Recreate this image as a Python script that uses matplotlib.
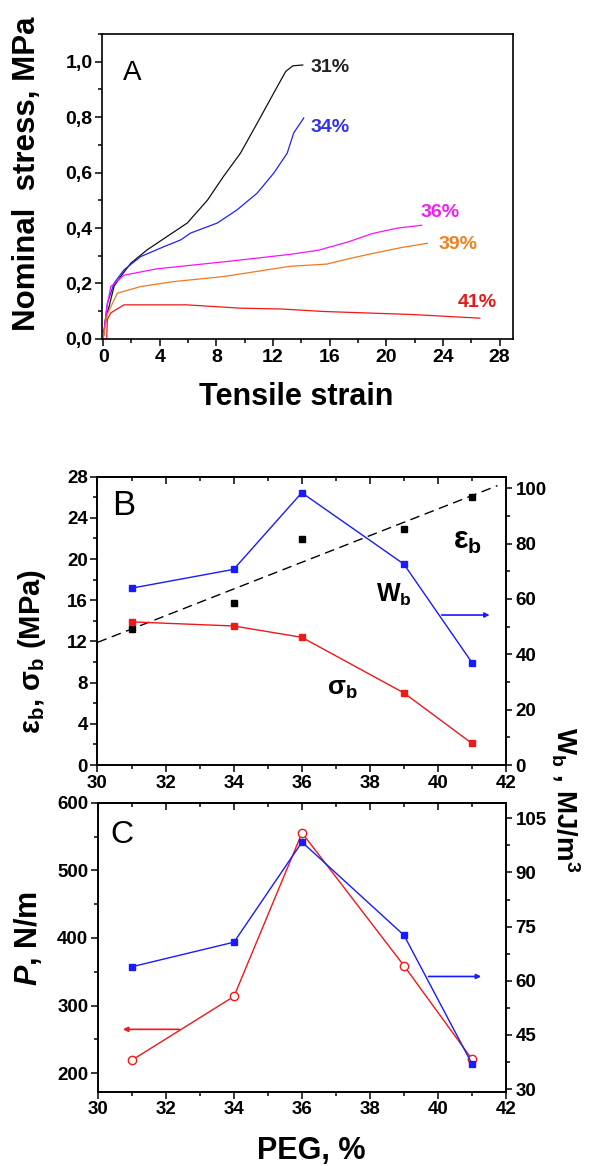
import numpy as np
import matplotlib
matplotlib.use("Agg")
import matplotlib.pyplot as plt
from matplotlib.ticker import MultipleLocator, FuncFormatter

plt.rcParams["font.family"] = ["Liberation Sans", "DejaVu Sans"]
plt.rcParams["font.weight"] = "bold"
plt.rcParams["mathtext.fontset"] = "custom"
plt.rcParams["mathtext.rm"] = "Liberation Sans"
plt.rcParams["mathtext.bf"] = "Liberation Sans:bold"
plt.rcParams["mathtext.it"] = "Liberation Sans:italic"
plt.rcParams["mathtext.bfit"] = "Liberation Sans:italic:bold"

## data, panel A: stress-strain curves

strain_31 = [0, 0.18, 0.42, 0.77, 1.24, 1.95, 3.1, 4.5, 5.94, 7.36, 8.5, 9.7, 10.9, 12.3, 12.9, 13.4, 14.1]
stress_31 = [0, 0.076, 0.117, 0.19, 0.225, 0.273, 0.321, 0.369, 0.418, 0.50, 0.586, 0.67, 0.78, 0.91, 0.965, 0.985, 0.988]

strain_34 = [0, 0.3, 0.77, 1.47, 2.65, 4.3, 5.47, 6.18, 8.06, 9.47, 10.88, 12.05, 13.0, 13.46, 14.17]
stress_34 = [0, 0.129, 0.201, 0.249, 0.297, 0.333, 0.357, 0.382, 0.418, 0.466, 0.526, 0.598, 0.67, 0.743, 0.797]

strain_36 = [0, 0.25, 0.54, 1.47, 3.8, 8.5, 13.2, 15.2, 17.3, 19.0, 20.8, 22.5]
stress_36 = [0, 0.11, 0.189, 0.23, 0.253, 0.278, 0.305, 0.32, 0.35, 0.38, 0.40, 0.41]

strain_39 = [0, 0.3, 1.0, 2.65, 5.0, 8.5, 13.2, 15.8, 17.4, 19.2, 21.1, 22.9]
stress_39 = [0, 0.09, 0.165, 0.189, 0.207, 0.225, 0.262, 0.27, 0.29, 0.31, 0.33, 0.345]

strain_41 = [0.25, 0.3, 0.54, 1.47, 5.9, 9.7, 12.6, 15.6, 21.9, 26.6]
stress_41 = [0, 0.07, 0.094, 0.123, 0.123, 0.111, 0.108, 0.099, 0.088, 0.075]

curve_labels = ["31%", "34%", "36%", "39%", "41%"]
curve_colors = ["#111111", "#2020ff", "#ff10ff", "#f07820", "#f01818"]
label_colors = ["#222222", "#3030f0", "#f020f0", "#f08020", "#e81818"]

## data, panels B and C

peg = [31, 34, 36, 39, 41]
eps_b = [13.2, 15.7, 21.9, 22.9, 26.0]
sigma_b = [13.9, 13.5, 12.4, 7.0, 2.1]
w_b = [63.9, 70.7, 98.4, 72.6, 37.0]
peel = [219.6, 313.7, 555.4, 359.0, 220.7]

fig = plt.figure(figsize=(5.89, 11.66), dpi=100)

## panel A

axA = fig.add_axes([0.1739, 0.7093, 0.6971, 0.2616])
curves = [(strain_31, stress_31), (strain_34, stress_34), (strain_36, stress_36),
          (strain_39, stress_39), (strain_41, stress_41)]
for (x, y), c in zip(curves, curve_colors):
    axA.plot(x, y, color=c, lw=0.9)

label_pos = [(14.65, 0.978), (14.65, 0.763), (22.45, 0.455), (23.67, 0.339), (25.08, 0.13)]
for lab, (x, y), c in zip(curve_labels, label_pos, label_colors):
    axA.text(x, y, lab, color=c, fontsize=14, fontweight="bold", ha="left", va="center")

axA.text(2.07, 0.96, "A", fontsize=20, fontweight="normal", ha="center", va="center")
axA.set_xlim(-0.05, 28.95)
axA.set_ylim(0, 1.10)
axA.xaxis.set_major_locator(MultipleLocator(4))
axA.xaxis.set_minor_locator(MultipleLocator(2))
axA.yaxis.set_major_locator(MultipleLocator(0.2))
axA.yaxis.set_minor_locator(MultipleLocator(0.1))
axA.yaxis.set_major_formatter(FuncFormatter(lambda v, p: f"{v:.1f}".replace(".", ",")))
axA.tick_params(which="both", direction="out", width=1.1)
axA.tick_params(which="major", length=5, labelsize=14, pad=2)
axA.tick_params(which="minor", length=3)
for s in axA.spines.values():
    s.set_linewidth(1.2)

fig.text(0.0458, 0.8508, "Nominal  stress, MPa", rotation=90, fontsize=22.5,
         fontweight="bold", ha="center", va="center")
fig.text(0.5025, 0.6595, "Tensile strain", fontsize=22, fontweight="bold",
         ha="center", va="center")


def style_axes(ax, ax2, right_major, right_minor, left_major, left_minor):
    ax.set_xlim(30, 42)
    ax.xaxis.set_major_locator(MultipleLocator(2))
    ax.xaxis.set_minor_locator(MultipleLocator(1))
    ax.yaxis.set_major_locator(MultipleLocator(left_major))
    ax.yaxis.set_minor_locator(MultipleLocator(left_minor))
    ax.tick_params(which="both", direction="out", width=1.1, labelsize=13.5)
    ax.tick_params(which="major", length=5, pad=2)
    ax.tick_params(which="minor", length=3)
    top = ax.secondary_xaxis("top")
    top.xaxis.set_major_locator(MultipleLocator(2))
    top.xaxis.set_minor_locator(MultipleLocator(1))
    top.tick_params(which="both", direction="in", labeltop=False, width=1.1)
    top.tick_params(which="major", length=5)
    top.tick_params(which="minor", length=3)
    ax2.yaxis.set_major_locator(MultipleLocator(right_major))
    ax2.yaxis.set_minor_locator(MultipleLocator(right_minor))
    ax2.tick_params(which="both", direction="out", width=1.1, labelsize=13.5)
    ax2.tick_params(which="major", length=4, pad=3)
    ax2.tick_params(which="minor", length=3)
    for a in (ax, ax2):
        for s in a.spines.values():
            s.set_linewidth(1.2)
    top.spines["top"].set_linewidth(1.2)


## panel B

axB = fig.add_axes([0.1655, 0.3439, 0.6936, 0.2473])
coef = np.polyfit(peg, eps_b, 1)
fit_x = np.array([30, 41.75])
axB.plot(fit_x, np.polyval(coef, fit_x), color="black", lw=1, dashes=(7, 4))
axB.plot(peg, eps_b, "s", color="black", ms=4.5)
axB.plot(peg, sigma_b, "-s", color="#f01818", lw=1, ms=5)
axB.set_ylim(0, 28)

axB2 = axB.twinx()
axB2.plot(peg, w_b, "-s", color="#1a1aff", lw=1, ms=5)
axB2.annotate("", xy=(41.6, 54.2), xytext=(40.03, 54.2),
              arrowprops=dict(arrowstyle="-|>", color="#1a1aff", lw=1.2, mutation_scale=7))
axB2.set_ylim(0, 104.2)
style_axes(axB, axB2, 20, 10, 4, 2)

axB.text(30.78, 25.2, "B", fontsize=25, fontweight="normal", ha="center", va="center")
axB.text(40.88, 21.8, r"ε$_\mathbf{b}$", fontsize=22, fontweight="bold", ha="center", va="center")
axB.text(38.71, 16.5, r"W$_\mathbf{b}$", fontsize=18, fontweight="bold", ha="center", va="center")
axB.text(37.18, 7.36, r"σ$_\mathbf{b}$", fontsize=19, fontweight="bold", ha="center", va="center")

fig.text(0.0543, 0.4408, r"ε$_\mathbf{b}$, σ$_\mathbf{b}$ (MPa)", rotation=90, fontsize=21,
         fontweight="bold", ha="center", va="center")
fig.text(0.960, 0.3140, r"W$_\mathbf{b}$ , MJ/m$^\mathbf{3}$", rotation=270, fontsize=20,
         fontweight="bold", ha="center", va="center")

## panel C

axC = fig.add_axes([0.1664, 0.0637, 0.6927, 0.2479])
axC.plot(peg, peel, "-o", color="#f01818", mfc="white", mec="#f01818", lw=1, ms=6, mew=1)
axC.annotate("", xy=(30.65, 265), xytext=(32.47, 265),
             arrowprops=dict(arrowstyle="-|>", color="#f01818", lw=1.2, mutation_scale=7))
axC.set_ylim(172.8, 600)

axC2 = axC.twinx()
axC2.plot(peg, w_b, "-s", color="#1a1aff", lw=1, ms=5)
axC2.annotate("", xy=(41.35, 61.2), xytext=(39.64, 61.2),
              arrowprops=dict(arrowstyle="-|>", color="#1a1aff", lw=1.2, mutation_scale=7))
axC2.set_ylim(29.3, 109.3)
style_axes(axC, axC2, 15, 7.5, 100, 50)

axC.text(30.7, 552, "C", fontsize=23, fontweight="normal", ha="center", va="center")
fig.text(0.0475, 0.1955, r"$\mathbfit{P}$, N/m", rotation=90, fontsize=22,
         fontweight="bold", ha="center", va="center")
fig.text(0.528, 0.0129, "PEG, %", fontsize=22, fontweight="bold", ha="center", va="center")

fig.savefig("out.png", dpi=100)
